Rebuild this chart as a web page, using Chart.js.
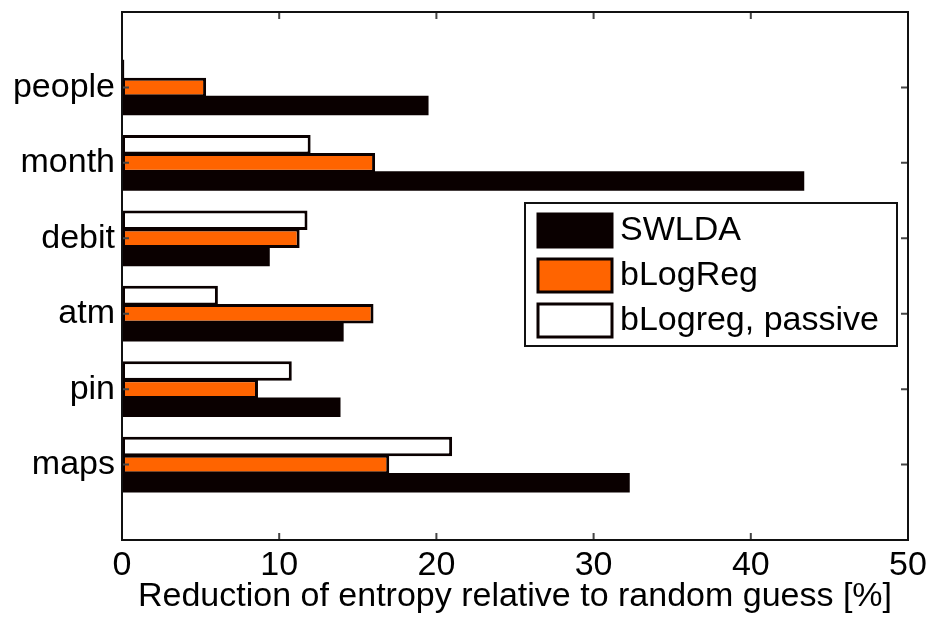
<!DOCTYPE html>
<html>
<head>
<meta charset="utf-8">
<script src="https://cdn.jsdelivr.net/npm/chart.js@4.4.0/dist/chart.umd.min.js"></script>
<style>
  html, body { margin: 0; padding: 0; background: #fff; }
  canvas { display: block; }
</style>
</head>
<body>
<canvas id="chart" width="931" height="617"></canvas>
<script>
var categories = ['people', 'month', 'debit', 'atm', 'pin', 'maps'];
var swlda = [19.5, 43.4, 9.4, 14.1, 13.9, 32.3];
var blogreg = [5.35, 16.1, 11.3, 16.0, 8.65, 17.0];
var passive = [0.15, 12.0, 11.8, 6.1, 10.8, 21.0];
var xTicks = [0, 10, 20, 30, 40, 50];
var xTitle = 'Reduction of entropy relative to random guess [%]';

var FONT = "'Liberation Sans', Arial, sans-serif";
var EDGE = '#0a0000';

// empty slots above and below so the bars sit at 1..6 of a 0..7 range
function pad(arr) { return [null].concat(arr).concat([null]); }
var labels = [''].concat(categories).concat(['']);

// box round the axes and the inward tick marks
var framePlugin = {
  id: 'frame',
  afterDatasetsDraw: function(chart) {
    var ctx = chart.ctx, a = chart.chartArea;
    var xs = chart.scales.x, ys = chart.scales.y;
    ctx.save();
    ctx.strokeStyle = '#444';
    ctx.lineWidth = 2;
    ctx.beginPath();
    xTicks.forEach(function(v) {
      var px = xs.getPixelForValue(v);
      ctx.moveTo(px, a.bottom); ctx.lineTo(px, a.bottom - 7);
      ctx.moveTo(px, a.top); ctx.lineTo(px, a.top + 7);
    });
    categories.forEach(function(c, i) {
      var py = ys.getPixelForValue(i + 1);
      ctx.moveTo(a.left, py); ctx.lineTo(a.left + 7, py);
      ctx.moveTo(a.right, py); ctx.lineTo(a.right - 7, py);
    });
    ctx.stroke();
    ctx.strokeStyle = '#111';
    ctx.lineWidth = 2;
    ctx.strokeRect(a.left, a.top, a.right - a.left, a.bottom - a.top);
    ctx.restore();
  }
};

// legend box inside the plot, like the matlab one
var legendPlugin = {
  id: 'boxLegend',
  afterDraw: function(chart) {
    var ctx = chart.ctx;
    var sets = chart.data.datasets.slice().reverse();
    var bx = 525, by = 203, bw = 372, bh = 143;
    ctx.save();
    ctx.fillStyle = '#fff';
    ctx.fillRect(bx, by, bw, bh);
    ctx.strokeStyle = '#111';
    ctx.lineWidth = 2;
    ctx.strokeRect(bx, by, bw, bh);
    ctx.font = '34px ' + FONT;
    ctx.textBaseline = 'middle';
    ctx.textAlign = 'left';
    sets.forEach(function(ds, i) {
      var cy = 230 + i * 45;
      ctx.fillStyle = ds.backgroundColor;
      ctx.fillRect(538, cy - 16, 74, 33);
      ctx.strokeStyle = EDGE;
      ctx.lineWidth = 3;
      ctx.strokeRect(538, cy - 16, 74, 33);
      ctx.fillStyle = '#000';
      ctx.fillText(ds.label, 620, cy + 1);
    });
    ctx.restore();
  }
};

var barStyle = {
  borderColor: EDGE,
  borderSkipped: false,
  categoryPercentage: 0.72,
  barPercentage: 1.08
};

new Chart(document.getElementById('chart'), {
  type: 'bar',
  data: {
    labels: labels,
    datasets: [
      Object.assign({ label: 'bLogreg, passive', data: pad(passive), backgroundColor: '#ffffff', borderWidth: 3 }, barStyle),
      Object.assign({ label: 'bLogReg', data: pad(blogreg), backgroundColor: '#ff6400', borderWidth: 3 }, barStyle),
      Object.assign({ label: 'SWLDA', data: pad(swlda), backgroundColor: EDGE, borderWidth: 0 }, barStyle)
    ]
  },
  options: {
    indexAxis: 'y',
    responsive: false,
    animation: false,
    layout: { padding: { left: 0, top: 12, right: 23, bottom: 0 } },
    plugins: {
      legend: { display: false },
      tooltip: { enabled: false }
    },
    scales: {
      x: {
        type: 'linear',
        min: 0,
        max: 50,
        afterBuildTicks: function(scale) {
          scale.ticks = xTicks.map(function(v) { return { value: v }; });
        },
        afterFit: function(scale) {
          scale.height = 77;
          scale.paddingLeft = 0;
          scale.paddingRight = 0;
        },
        grid: { display: false, drawTicks: false },
        border: { display: false },
        ticks: {
          padding: 5,
          color: '#000',
          font: { family: FONT, size: 34 }
        },
        title: {
          display: true,
          text: xTitle,
          color: '#000',
          padding: { top: 0, bottom: 0 },
          font: { family: FONT, size: 34 }
        }
      },
      y: {
        type: 'category',
        offset: false,
        afterFit: function(scale) {
          scale.width = 122;
          scale.paddingTop = 0;
          scale.paddingBottom = 0;
        },
        grid: { display: false, drawTicks: false, offset: false },
        border: { display: false },
        ticks: {
          padding: 7,
          autoSkip: false,
          color: '#000',
          font: { family: FONT, size: 34 }
        }
      }
    }
  },
  plugins: [framePlugin, legendPlugin]
});
</script>
</body>
</html>
